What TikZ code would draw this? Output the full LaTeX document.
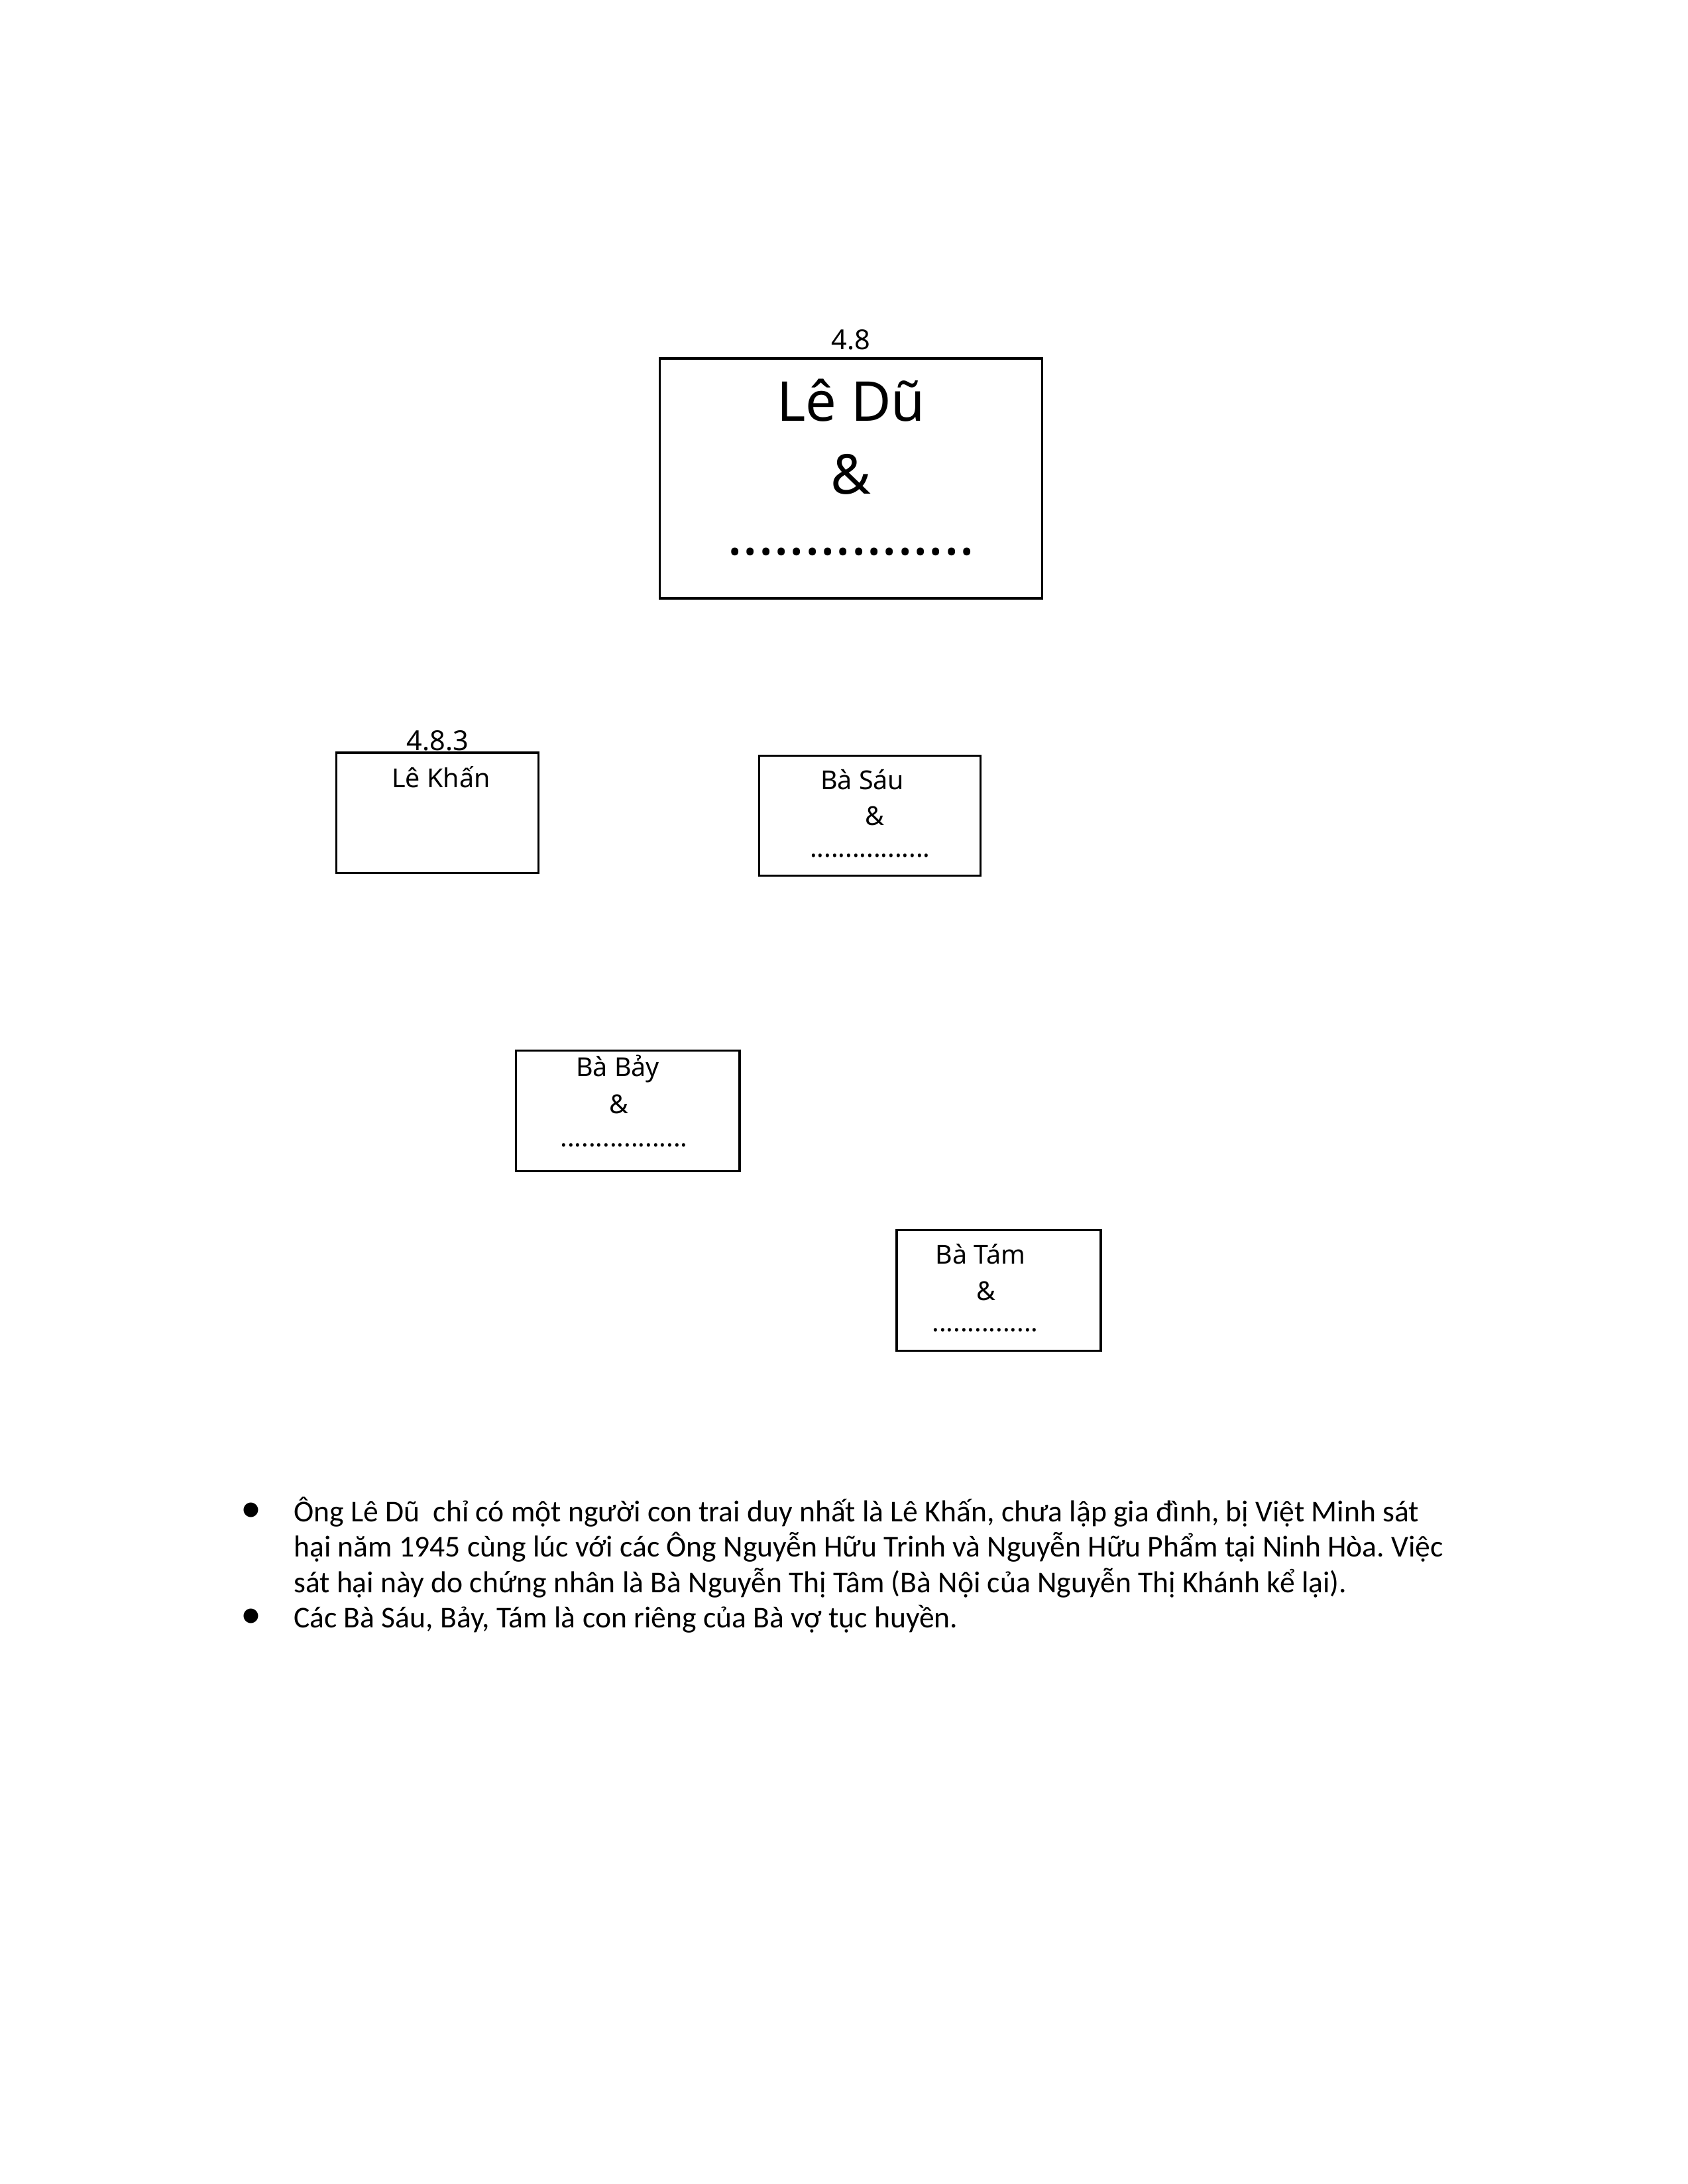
\documentclass[tikz,border=0pt]{standalone}
\usepackage{fontspec}
\setmainfont{Noto Sans}
\newfontfamily\notefont{Carlito}
\usepackage{tikz}
\usetikzlibrary{positioning,calc}
\frenchspacing
\tikzset{
  famBox/.style={draw=black, line width=0.8pt, inner sep=0pt},
  famBig/.style={famBox, minimum width=4.89cm, minimum height=3.07cm},
  famSmall/.style={famBox, minimum height=1.54cm},
  %% Labels inside boxes
  nameBig/.style={font=\fontsize{20}{24}\selectfont, inner sep=0pt},
  nameSmall/.style={font=\fontsize{9.5}{11}\selectfont, inner sep=0pt},
  dotsBig/.style={font=\fontsize{21}{24}\selectfont\bfseries, inner sep=0pt},
  dotsSmall/.style={font=\fontsize{9.6}{10}\selectfont\bfseries, inner sep=0pt},
  numLbl/.style={font=\fontsize{10}{12}\selectfont, inner sep=0pt},
  %% Footnotes
  noteTxt/.style={font=\notefont\fontsize{11}{12.8}\selectfont, align=left, inner sep=0pt, anchor=base west},
  noteDot/.style={font=\notefont\fontsize{15}{15}\selectfont, inner sep=0pt, anchor=base},
}
\begin{document}
\begin{tikzpicture}[x=1cm, y=1cm]
\useasboundingbox (0,0) rectangle (21.59,-27.94);

%% Parent couple
\node[famBig] (pDu) at (10.885,-6.12) {};
\node[numLbl] (nDu) at (10.885,-4.35) {4.8};
\node[nameBig] (tDu) at (10.885,-5.12) {Lê Dũ};
\node[nameBig] (aDu) at (10.885,-6.07) {\&};
\node[dotsBig] (dDu) at (10.885,-7.06) {................};

%% Children
\node[famSmall, minimum width=2.59cm] (pKhan) at (5.595,-10.40) {};
\node[numLbl, anchor=base] (nKhan) at (5.60,-9.60) {4.8.3};
\node[nameSmall] (tKhan) at (5.64,-9.94) {Lê Khấn};

\node[famSmall, minimum width=2.83cm] (pSau) at (11.125,-10.435) {};
\node[nameSmall] (tSau) at (11.03,-9.97) {Bà Sáu};
\node[nameSmall] (aSau) at (11.19,-10.44) {\&};
\node[dotsSmall] (dSau) at (11.13,-10.95) {.................};

\node[famSmall, minimum width=2.86cm] (pBay) at (8.03,-14.21) {};
\node[nameSmall] (tBay) at (7.90,-13.67) {Bà Bảy};
\node[nameSmall] (aBay) at (7.92,-14.13) {\&};
\node[dotsSmall] (dBay) at (7.98,-14.65) {..................};

\node[famSmall, minimum width=2.61cm] (pTam) at (12.775,-16.51) {};
\node[nameSmall] (tTam) at (12.54,-16.04) {Bà Tám};
\node[nameSmall] (aTam) at (12.61,-16.52) {\&};
\node[dotsSmall] (dTam) at (12.60,-17.02) {...............};

%% Notes
\node[noteDot] (b1) at (3.21,-19.47) {\textbullet};
\node[noteTxt] (note1) at (3.75,-20.37) {Ông Lê Dũ~ chỉ có một người con trai duy nhất là Lê Khấn, chưa lập gia đình, bị Việt Minh sát\\
hại năm 1945 cùng lúc với các Ông Nguyễn Hữu Trinh và Nguyễn Hữu Phẩm tại Ninh Hòa. Việc\\
sát hại này do chứng nhân là Bà Nguyễn Thị Tâm (Bà Nội của Nguyễn Thị Khánh kể lại).};
\node[noteDot] (b2) at (3.21,-20.82) {\textbullet};
\node[noteTxt] (note2) at (3.75,-20.82) {Các Bà Sáu, Bảy, Tám là con riêng của Bà vợ tục huyền.};

\end{tikzpicture}
\end{document}
